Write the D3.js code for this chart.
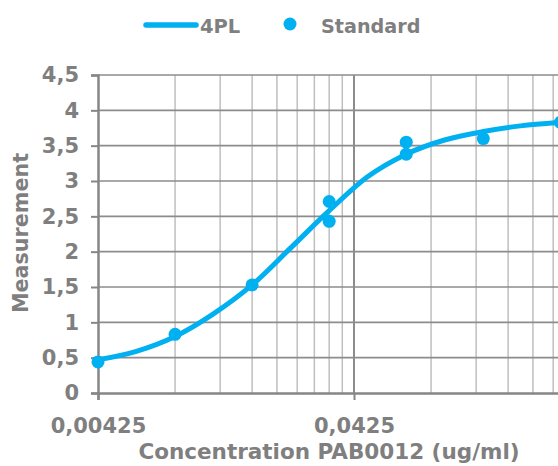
<!DOCTYPE html>
<html>
<head>
<meta charset="utf-8">
<script src="https://cdn.jsdelivr.net/npm/d3@7"></script>
<style>
  html, body { margin: 0; padding: 0; background: #fff; overflow: hidden; }
  text { font-family: "DejaVu Sans", Verdana, sans-serif; font-weight: bold; fill: #7f7f7f; }
</style>
</head>
<body>
<div id="canvas"></div>
<script>
// standard points (concentration, measurement)
const standardConc = [0.00425, 0.0085, 0.017, 0.034, 0.034, 0.068, 0.068, 0.136, 0.272];
const standardValue = [0.44, 0.83, 1.53, 2.71, 2.43, 3.55, 3.38, 3.60, 3.83];

// fitted 4PL curve
const curveConc = [0.00425, 0.006, 0.0085, 0.012, 0.017, 0.024, 0.034, 0.048, 0.068, 0.096, 0.136, 0.19, 0.272, 0.38, 0.425];
const curveValue = [0.47, 0.59, 0.80, 1.12, 1.53, 2.05, 2.58, 3.06, 3.38, 3.58, 3.70, 3.78, 3.83, 3.86, 3.87];

const yTicks = [0, 0.5, 1, 1.5, 2, 2.5, 3, 3.5, 4, 4.5];
const xTickLabels = [0.00425, 0.0425];

const blue = "#00b0f0";
const width = 558, height = 466;

const svg = d3.select("#canvas")
  .append("svg")
  .attr("width", width)
  .attr("height", height);

const x = d3.scaleLog().domain([0.00425, 0.425]).range([98, 610]);
const y = d3.scaleLinear().domain([0, 4.5]).range([393, 75]);

const fmt = (v) => String(v).replace(".", ",");

// vertical grid: every 1..10 step inside each decade
const gridX = [];
[0.00425, 0.0425].forEach((base) => {
  d3.range(2, 11).forEach((k) => gridX.push({ v: base * k, major: k === 10 }));
});

svg.append("g")
  .selectAll("line")
  .data(gridX)
  .join("line")
  .attr("x1", (d) => x(d.v))
  .attr("x2", (d) => x(d.v))
  .attr("y1", y(4.5))
  .attr("y2", y(0))
  .attr("stroke", (d) => (d.major ? "#8c8c8c" : "#bfbfbf"))
  .attr("stroke-width", (d) => (d.major ? 2 : 1.5));

// horizontal grid
svg.append("g")
  .selectAll("line")
  .data(yTicks.filter((d) => d > 0))
  .join("line")
  .attr("x1", x(0.00425))
  .attr("x2", x(0.425))
  .attr("y1", (d) => y(d))
  .attr("y2", (d) => y(d))
  .attr("stroke", "#8c8c8c")
  .attr("stroke-width", 1.7);

// y axis
const yAxis = svg.append("g")
  .attr("transform", `translate(${x(0.00425)},0)`)
  .call(d3.axisLeft(y).tickValues(yTicks).tickSize(7).tickPadding(12).tickFormat(fmt));
yAxis.select(".domain").attr("stroke", "#868686").attr("stroke-width", 2.5);
yAxis.selectAll(".tick line").attr("stroke", "#868686").attr("stroke-width", 2);
yAxis.selectAll("text").style("font-size", "21px").attr("fill", "#7f7f7f");

// x axis
const xAxis = svg.append("g")
  .attr("transform", `translate(0,${y(0)})`)
  .call(d3.axisBottom(x).tickValues(xTickLabels).tickSize(7).tickPadding(18).tickFormat(fmt));
xAxis.select(".domain").attr("stroke", "#868686").attr("stroke-width", 2.5);
xAxis.selectAll(".tick line").attr("stroke", "#868686").attr("stroke-width", 2);
xAxis.selectAll("text").style("font-size", "21px").attr("fill", "#7f7f7f");

// 4PL line
const line = d3.line()
  .x((d, i) => x(curveConc[i]))
  .y((d) => y(d))
  .curve(d3.curveMonotoneX);

svg.append("path")
  .datum(curveValue)
  .attr("d", line)
  .attr("fill", "none")
  .attr("stroke", blue)
  .attr("stroke-width", 5)
  .attr("stroke-linecap", "round");

// standards
svg.append("g")
  .selectAll("circle")
  .data(standardValue)
  .join("circle")
  .attr("cx", (d, i) => x(standardConc[i]))
  .attr("cy", (d) => y(d))
  .attr("r", 6.5)
  .attr("fill", blue);

// axis titles
svg.append("text")
  .attr("x", 329)
  .attr("y", 459)
  .attr("text-anchor", "middle")
  .style("font-size", "21.5px")
  .text("Concentration PAB0012 (ug/ml)");

svg.append("text")
  .attr("transform", "translate(28,233) rotate(-90)")
  .attr("text-anchor", "middle")
  .style("font-size", "20.7px")
  .text("Measurement");

// legend
const legend = svg.append("g");
legend.append("line")
  .attr("x1", 146).attr("x2", 196)
  .attr("y1", 25).attr("y2", 25)
  .attr("stroke", blue)
  .attr("stroke-width", 5.5)
  .attr("stroke-linecap", "round");
legend.append("text")
  .attr("x", 200).attr("y", 33)
  .style("font-size", "19.5px")
  .text("4PL");
legend.append("circle")
  .attr("cx", 290).attr("cy", 24)
  .attr("r", 6.5)
  .attr("fill", blue);
legend.append("text")
  .attr("x", 321).attr("y", 33)
  .style("font-size", "19.2px")
  .text("Standard");
</script>
</body>
</html>
